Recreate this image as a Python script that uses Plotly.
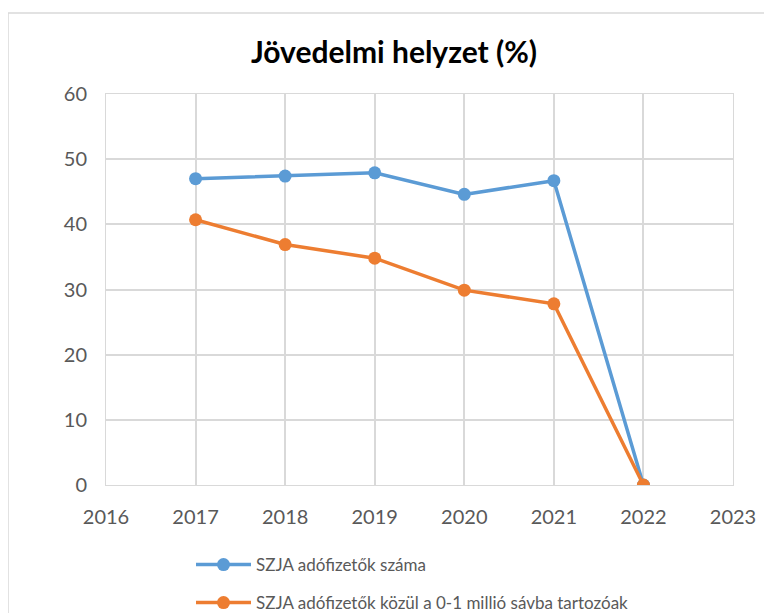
import plotly.graph_objects as go

YEARS = [2017, 2018, 2019, 2020, 2021, 2022]
TAXPAYERS = [47.0, 47.4, 47.9, 44.6, 46.7, 0]
LOW_BAND = [40.7, 36.9, 34.8, 29.9, 27.8, 0]

SERIES_NAMES = [
    "SZJA adófizetők száma",
    "SZJA adófizetők közül a 0-1 millió sávba tartozóak",
]
COLORS = ["#5b9bd5", "#ed7d31"]
TEXT_GRAY = "#595959"
GRID = "#d9d9d9"
FONT = "Lato, Open Sans, sans-serif"

# figure is a bit taller than the window so the bottom legend entry
# does not push the plot margin (the page crops the rest)
W, H = 772, 640
# plot area in figure pixels (page body adds ~8px offset)
L, T, R, B = 98, 86, 725, 477
PW, PH = R - L, B - T

fig = go.Figure()
for i, vals in enumerate([TAXPAYERS, LOW_BAND]):
    fig.add_trace(
        go.Scatter(
            x=YEARS,
            y=vals,
            name=SERIES_NAMES[i],
            mode="lines+markers",
            line=dict(color=COLORS[i], width=3.5),
            marker=dict(color=COLORS[i], size=13),
            legend="legend" if i == 0 else "legend2",
        )
    )

legend_style = dict(
    orientation="v",
    x=(183 - L) / PW,
    xanchor="left",
    yanchor="middle",
    itemwidth=55,
    font=dict(size=17, color=TEXT_GRAY),
    bgcolor="rgba(0,0,0,0)",
)

fig.update_layout(
    width=W,
    height=H,
    paper_bgcolor="white",
    plot_bgcolor="white",
    margin=dict(l=L, r=W - R, t=T, b=H - B),
    font=dict(family=FONT, color=TEXT_GRAY, size=20),
    title=dict(
        text="<b>Jövedelmi helyzet (%)</b>",
        font=dict(size=30, color="black", family=FONT),
        x=0.5,
        xanchor="center",
        y=1 - 44 / H,
        yanchor="middle",
    ),
    legend=dict(legend_style, y=(B - 557) / PH),
    legend2=dict(legend_style, y=(B - 595) / PH),
    showlegend=True,
    shapes=[
        dict(
            type="rect",
            xref="paper",
            yref="paper",
            x0=-L / PW,
            x1=1.1,
            y0=-0.45,
            y1=(B - 5) / PH,
            line=dict(color=GRID, width=1.5),
            layer="below",
        )
    ],
)

fig.update_xaxes(
    range=[2016, 2023],
    tickmode="linear",
    tick0=2016,
    dtick=1,
    showgrid=True,
    gridcolor=GRID,
    gridwidth=1.5,
    zeroline=False,
    showline=True,
    linecolor=GRID,
    mirror=True,
    ticks="",
    ticklabelstandoff=14,
)
fig.update_yaxes(
    range=[0, 60],
    dtick=10,
    showgrid=True,
    gridcolor=GRID,
    gridwidth=1.5,
    zeroline=False,
    showline=True,
    linecolor=GRID,
    mirror=True,
    ticks="",
    ticklabelstandoff=14,
)

fig.write_html("out.html")
